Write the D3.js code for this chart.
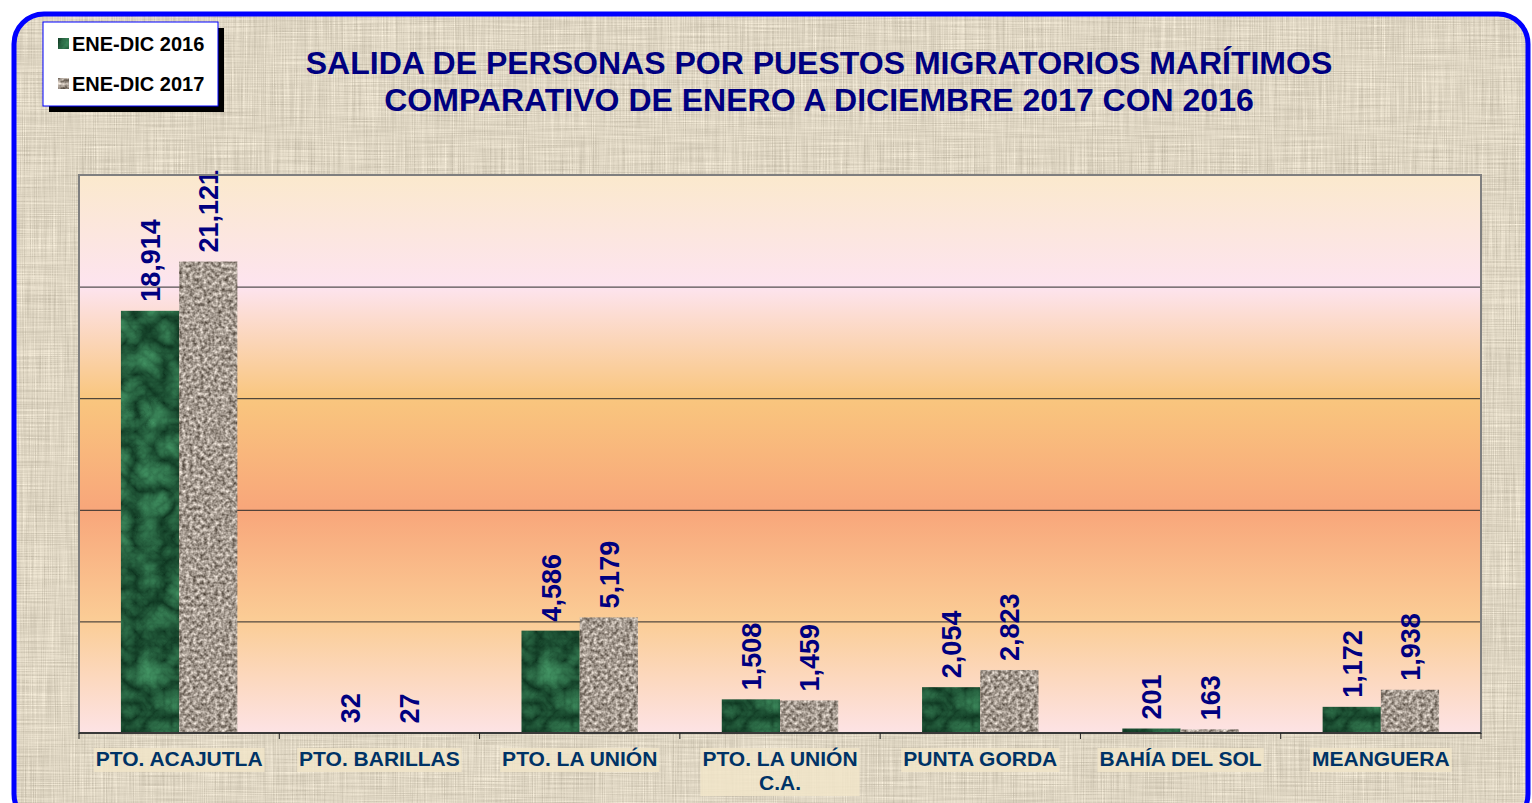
<!DOCTYPE html>
<html>
<head>
<meta charset="utf-8">
<script src="https://cdn.jsdelivr.net/npm/d3@7"></script>
<style>
  body { margin: 0; background: #fff; }
  svg { display: block; }
  text { font-family: Arial, "Liberation Sans", sans-serif; font-weight: bold; }
  filter { color-interpolation-filters: sRGB; }
</style>
</head>
<body>
<div id="chart"></div>
<script>
var categories = ["PTO. ACAJUTLA", "PTO. BARILLAS", "PTO. LA UNIÓN", "PTO. LA UNIÓN C.A.", "PUNTA GORDA", "BAHÍA DEL SOL", "MEANGUERA"];
var seriesNames = ["ENE-DIC 2016", "ENE-DIC 2017"];
var values2016 = [18914, 32, 4586, 1508, 2054, 201, 1172];
var values2017 = [21121, 27, 5179, 1459, 2823, 163, 1938];
var yTicks = [0, 5000, 10000, 15000, 20000, 25000];
var titleLines = ["SALIDA DE PERSONAS POR PUESTOS MIGRATORIOS MARÍTIMOS", "COMPARATIVO DE ENERO A DICIEMBRE 2017 CON 2016"];

var W = 1532, H = 803;
var margin = {top: 175, right: 51, bottom: 70, left: 79},
    width = W - margin.left - margin.right,
    height = H - margin.top - margin.bottom;

var svg = d3.select("#chart").append("svg")
    .attr("width", W)
    .attr("height", H);

var defs = svg.append("defs");

// parchment texture for the page
var fp = defs.append("filter").attr("id", "paper").attr("x", 0).attr("y", 0).attr("width", 1).attr("height", 1)
    .attr("color-interpolation-filters", "sRGB");
fp.append("feTurbulence").attr("type", "fractalNoise").attr("baseFrequency", "0.9 0.015").attr("numOctaves", 2).attr("seed", 3).attr("result", "h");
fp.append("feTurbulence").attr("type", "fractalNoise").attr("baseFrequency", "0.015 0.9").attr("numOctaves", 2).attr("seed", 7).attr("result", "v");
fp.append("feComposite").attr("in", "h").attr("in2", "v").attr("operator", "arithmetic")
    .attr("k1", 0).attr("k2", 0.5).attr("k3", 0.5).attr("k4", 0).attr("result", "n");
fp.append("feColorMatrix").attr("in", "n").attr("type", "matrix")
    .attr("values", "0.38 0 0 0 0.68  0.38 0 0 0 0.645  0.38 0 0 0 0.57  0 0 0 0 1");
fp.append("feComposite").attr("in2", "SourceGraphic").attr("operator", "in");

// green marble for 2016
var fg = defs.append("filter").attr("id", "marble").attr("x", 0).attr("y", 0).attr("width", 1).attr("height", 1)
    .attr("color-interpolation-filters", "sRGB");
fg.append("feTurbulence").attr("type", "turbulence").attr("baseFrequency", "0.035").attr("numOctaves", 4).attr("seed", 11).attr("result", "t");
fg.append("feColorMatrix").attr("in", "t").attr("type", "matrix")
    .attr("values", "0.25 0 0 0 0.05  0.45 0 0 0 0.2  0.32 0 0 0 0.12  0 0 0 0 1");
fg.append("feComposite").attr("in2", "SourceGraphic").attr("operator", "in");

// granite for 2017
var fs = defs.append("filter").attr("id", "granite").attr("x", 0).attr("y", 0).attr("width", 1).attr("height", 1)
    .attr("color-interpolation-filters", "sRGB");
fs.append("feTurbulence").attr("type", "fractalNoise").attr("baseFrequency", "0.28").attr("numOctaves", 2).attr("seed", 5).attr("result", "t");
fs.append("feColorMatrix").attr("in", "t").attr("type", "matrix")
    .attr("values", "0.95 0 0 0 0.17  0.95 0 0 0 0.13  0.95 0 0 0 0.09  0 0 0 0 1");
fs.append("feComposite").attr("in2", "SourceGraphic").attr("operator", "in");

var grad = defs.append("linearGradient").attr("id", "plotbg").attr("x1", 0).attr("y1", 0).attr("x2", 0).attr("y2", 1);
[["0", "#fbe9cd"], ["0.2", "#fde4ef"], ["0.4", "#f9c67e"], ["0.6", "#f8a67a"], ["0.8", "#fbcd96"], ["1", "#fde3e5"]]
  .forEach(function(s) { grad.append("stop").attr("offset", s[0]).attr("stop-color", s[1]); });

// page background + rounded blue border
svg.append("rect")
    .attr("x", 14).attr("y", 14).attr("width", 1514).attr("height", 810).attr("rx", 30)
    .attr("fill", "#000").attr("filter", "url(#paper)");
svg.append("rect")
    .attr("x", 14).attr("y", 14).attr("width", 1514).attr("height", 810).attr("rx", 30)
    .attr("fill", "none").attr("stroke", "#0000ff").attr("stroke-width", 5);

var x0 = d3.scaleBand()
    .domain(categories)
    .range([0, width])
    .padding(0);

var x1 = d3.scaleBand()
    .domain(seriesNames)
    .range([0, x0.bandwidth()])
    .paddingInner(0)
    .paddingOuter(0.72);

var y = d3.scaleLinear()
    .domain([0, 25000])
    .range([height, 0]);

var g = svg.append("g")
    .attr("transform", "translate(" + margin.left + "," + margin.top + ")");

g.append("rect")
    .attr("width", width).attr("height", height)
    .attr("fill", "url(#plotbg)");

g.append("g").selectAll("line")
    .data(yTicks.slice(1, -1))
    .join("line")
    .attr("x1", 0).attr("x2", width)
    .attr("y1", function(d) { return y(d) + 0.5; })
    .attr("y2", function(d) { return y(d) + 0.5; })
    .attr("stroke", "#2a2a2a").attr("stroke-width", 1);

var rows = categories.map(function(c, i) {
  return {cat: c, vals: [values2016[i], values2017[i]]};
});

var filters = ["url(#marble)", "url(#granite)"];

var grp = g.selectAll(".grp")
    .data(rows)
    .join("g")
    .attr("class", "grp")
    .attr("transform", function(d) { return "translate(" + x0(d.cat) + ",0)"; });

grp.selectAll("rect")
    .data(function(d) { return d.vals.map(function(v, j) { return {s: seriesNames[j], v: v, j: j}; }); })
    .join("rect")
    .attr("x", function(d) { return x1(d.s); })
    .attr("y", function(d) { return y(d.v); })
    .attr("width", x1.bandwidth())
    .attr("height", function(d) { return height - y(d.v); })
    .attr("fill", "#000")
    .attr("filter", function(d) { return filters[d.j]; });

var fmt = d3.format(",");
grp.selectAll(".val")
    .data(function(d) { return d.vals.map(function(v, j) { return {s: seriesNames[j], v: v}; }); })
    .join("text")
    .attr("class", "val")
    .attr("transform", function(d) {
      return "translate(" + (x1(d.s) + x1.bandwidth() / 2 + 10) + "," + (y(d.v) - 9) + ") rotate(-90)";
    })
    .attr("fill", "#000080")
    .attr("font-size", 27)
    .text(function(d) { return fmt(d.v); });

// plot border
g.append("rect")
    .attr("width", width).attr("height", height)
    .attr("fill", "none").attr("stroke", "#7f7f7f").attr("stroke-width", 2);

// x axis
var xAxis = g.append("g")
    .attr("transform", "translate(0," + height + ")");
xAxis.append("line").attr("x1", 0).attr("x2", width).attr("stroke", "#222").attr("stroke-width", 1.5);
xAxis.selectAll(".tick")
    .data(categories.concat([null]))
    .join("line")
    .attr("x1", function(d) { return d === null ? width : x0(d); })
    .attr("x2", function(d) { return d === null ? width : x0(d); })
    .attr("y1", 0).attr("y2", 6)
    .attr("stroke", "#222");

var lab = xAxis.selectAll(".cat")
    .data(categories)
    .join("g")
    .attr("class", "cat")
    .attr("transform", function(d) { return "translate(" + (x0(d) + x0.bandwidth() / 2) + ",0)"; });

lab.each(function(d) {
  var sel = d3.select(this);
  var lines = d === "PTO. LA UNIÓN C.A." ? ["PTO. LA UNIÓN", "C.A."] : [d];
  var bg = sel.append("rect").attr("fill", "#f1e5c9").attr("opacity", 0.85);
  var t = sel.append("text")
      .attr("text-anchor", "middle")
      .attr("fill", "#003366")
      .attr("font-size", 21);
  lines.forEach(function(l, i) {
    t.append("tspan").attr("x", 0).attr("y", 33 + i * 24).text(l);
  });
  var bb = t.node().getBBox();
  bg.attr("x", bb.x - 2).attr("y", bb.y + 1).attr("width", bb.width + 4).attr("height", bb.height + 1);
});

// title
svg.append("g").selectAll("text")
    .data(titleLines)
    .join("text")
    .attr("x", 819)
    .attr("y", function(d, i) { return 74 + i * 37; })
    .attr("text-anchor", "middle")
    .attr("fill", "#000080")
    .attr("font-size", 32)
    .text(function(d) { return d; });

// legend
var leg = svg.append("g").attr("transform", "translate(43,22)");
leg.append("rect").attr("x", 6).attr("y", 6).attr("width", 175).attr("height", 84).attr("fill", "#000");
leg.append("rect").attr("x", 0).attr("y", 0).attr("width", 175).attr("height", 84)
    .attr("fill", "#fff").attr("stroke", "#0000ff").attr("stroke-width", 1);
var li = leg.selectAll(".li")
    .data(seriesNames)
    .join("g")
    .attr("class", "li")
    .attr("transform", function(d, i) { return "translate(15," + (21 + i * 40) + ")"; });
li.append("rect").attr("width", 11).attr("height", 11).attr("y", -5)
    .attr("fill", "#000")
    .attr("filter", function(d, i) { return filters[i]; });
li.append("text").attr("x", 14).attr("y", 7.5).attr("font-size", 20).attr("fill", "#000")
    .text(function(d) { return d; });
</script>
</body>
</html>
